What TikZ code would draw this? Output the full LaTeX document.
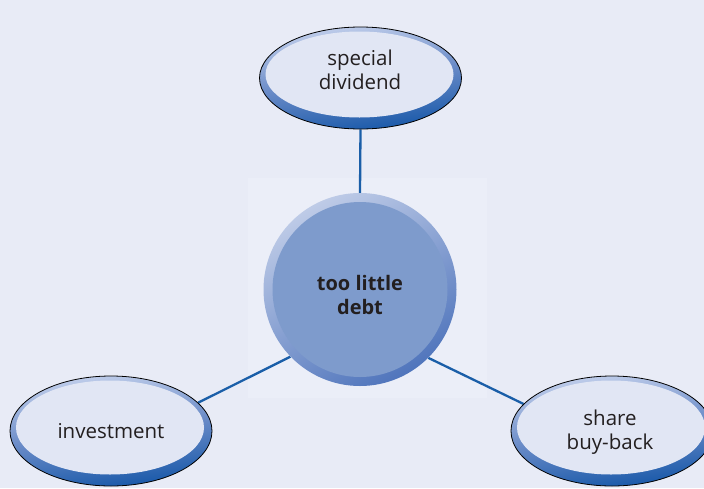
\documentclass[tikz,border=0pt]{standalone}
\usepackage{fontspec}
\setmainfont{Open Sans}
\usetikzlibrary{shapes.geometric,backgrounds}
\definecolor{bg}{HTML}{E8EBF6}
\definecolor{panel}{HTML}{EBEEF8}
\definecolor{ringlight}{HTML}{C3D0EC}
\definecolor{ringmid}{HTML}{6B8CC8}
\definecolor{ringdark}{HTML}{1657A8}
\definecolor{ovalfill}{HTML}{E1E6F4}
\definecolor{hublight}{HTML}{BECBE7}
\definecolor{hubdark}{HTML}{5075BC}
\definecolor{hubfill}{HTML}{7E9BCC}
\definecolor{linkc}{HTML}{1A5EA8}
\definecolor{txt}{HTML}{231F20}
\tikzset{
  ovalring/.style={ellipse, draw=black, line width=0.8pt, inner sep=0pt,
    minimum width=202pt, minimum height=102pt,
    top color=ringlight, bottom color=ringdark, middle color=ringmid, shading angle=8},
  ovalin/.style={ellipse, fill=ovalfill, inner sep=0pt,
    minimum width=188pt, minimum height=86pt},
  lbl/.style={text=txt, align=center, font=\fontsize{20.5}{24}\selectfont},
  hubring/.style={circle, inner sep=0pt, minimum size=193pt,
    top color=hublight, bottom color=hubdark, shading angle=30},
  hubin/.style={circle, fill=hubfill, inner sep=0pt, minimum size=175pt},
  link/.style={draw=linkc, line width=2.3pt}
}
\begin{document}
\begin{tikzpicture}[x=1pt,y=1pt]
\useasboundingbox (0,0) rectangle (704,-488);
\node[ovalring] (top) at (360.5,-78) {};
\node[ovalin] (topin) at (359.5,-74.5) {};
\node[lbl] (toplbl) at (360,-70) {special\\dividend};
\node[hubring] (hub) at (360,-289.5) {};
\node[hubin] (hubi) at (360,-289.5) {};
\node[lbl, font=\fontsize{20}{24}\selectfont\bfseries] (hublbl) at (360,-295) {too little\\debt};
\node[ovalring, minimum height=110pt] (left) at (111,-431) {};
\node[ovalin, minimum height=94pt] (leftin) at (110,-427.5) {};
\node[lbl] (leftlbl) at (111,-431) {investment};
\node[ovalring, minimum height=110pt] (right) at (612,-431) {};
\node[ovalin, minimum height=94pt] (rightin) at (611,-427.5) {};
\node[lbl] (rightlbl) at (610,-432.5) {share\\buy-back};
\begin{scope}[on background layer]
  \fill[bg] (0,0) rectangle (704,-488);
  \fill[panel] (248,-178) rectangle (487,-398);
  \draw[link] (top.south) -- (hub.north);
  \draw[link] (left.18) -- (hub.224);
  \draw[link] (right.163) -- (hub.315);
\end{scope}
\end{tikzpicture}
\end{document}
